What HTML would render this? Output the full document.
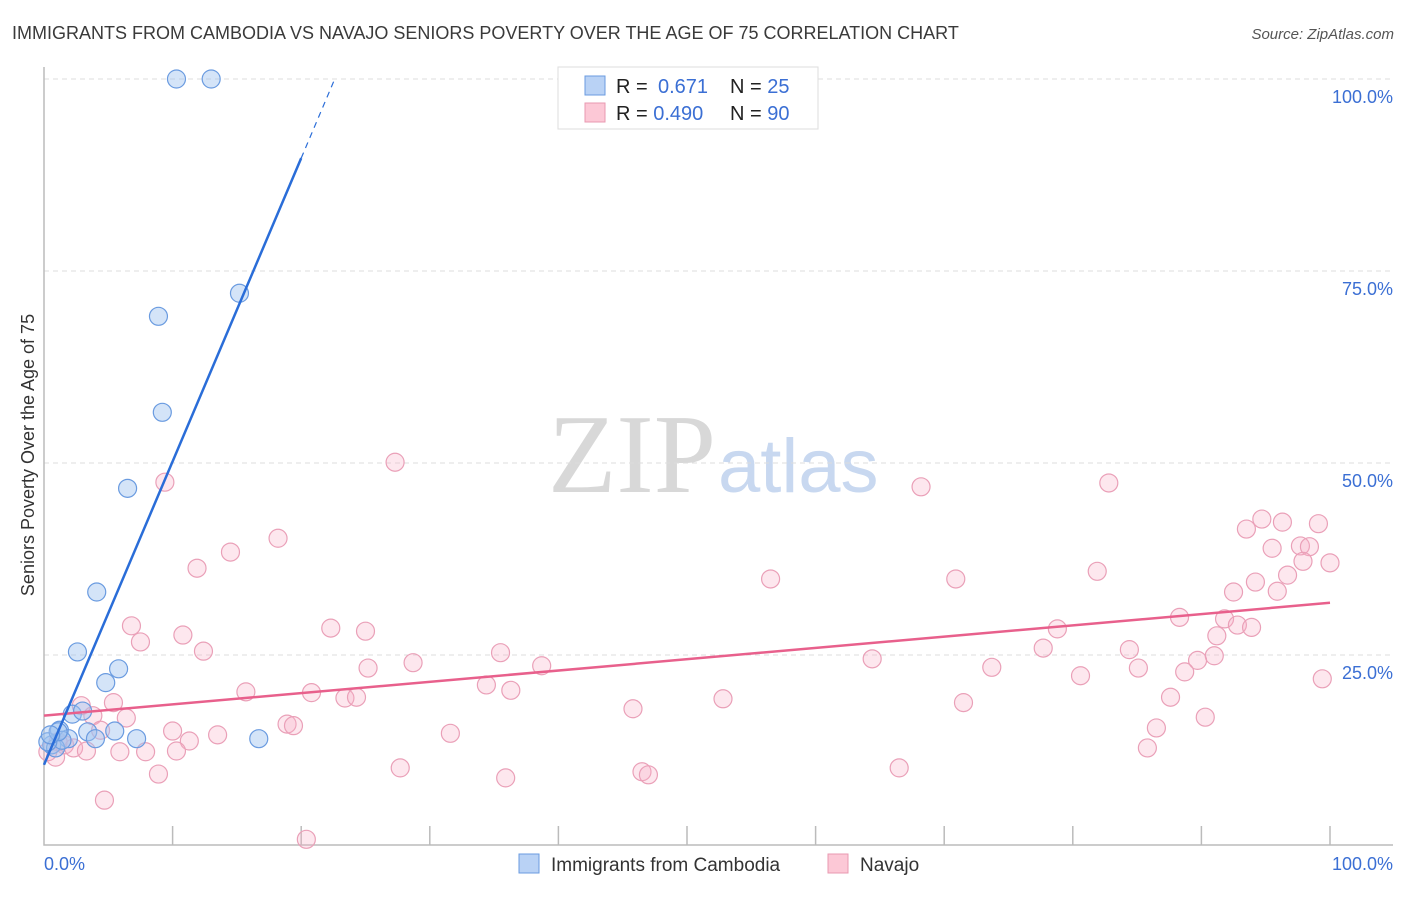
<!DOCTYPE html>
<html><head><meta charset="utf-8"><style>
body{margin:0;background:#fff;font-family:"Liberation Sans",sans-serif}
svg text{font-family:"Liberation Sans",sans-serif}
</style></head><body>
<svg id="c" width="1406" height="892">
<text x="12" y="39" font-size="18" fill="#3a3a3a">IMMIGRANTS FROM CAMBODIA VS NAVAJO SENIORS POVERTY OVER THE AGE OF 75 CORRELATION CHART</text>
<text x="1394" y="39" font-size="15" fill="#555" font-style="italic" text-anchor="end">Source: ZipAtlas.com</text>
<text x="716" y="492" font-size="112" fill="#d8d8d8" text-anchor="end" style="font-family:'Liberation Serif',serif">ZIP</text>
<text x="718" y="492" font-size="76" fill="#c8d8f0">atlas</text>
<text transform="translate(34,455) rotate(-90)" font-size="18" fill="#333" text-anchor="middle">Seniors Poverty Over the Age of 75</text>
<g id="grid"></g><g id="pts"></g><g id="lines"></g>
<g>
<rect x="558" y="67" width="260" height="62" fill="#fff" stroke="#ddd"/>
<rect x="585" y="76" width="20" height="19" fill="#b9d2f5" stroke="#6a9be0"/>
<rect x="585" y="103" width="20" height="19" fill="#fcc8d6" stroke="#e899b0"/>
<text x="616" y="93" font-size="20" fill="#222">R = <tspan x="658" fill="#3b6fd4">0.671</tspan></text>
<text x="730" y="93" font-size="20" fill="#222">N = <tspan fill="#3b6fd4">25</tspan></text>
<text x="616" y="120" font-size="20" fill="#222">R = <tspan fill="#3b6fd4">0.490</tspan></text>
<text x="730" y="120" font-size="20" fill="#222">N = <tspan fill="#3b6fd4">90</tspan></text>
</g>
<g>
<rect x="519" y="854" width="20" height="19" fill="#b9d2f5" stroke="#6a9be0"/>
<text x="551" y="871" font-size="19" fill="#333">Immigrants from Cambodia</text>
<rect x="828" y="854" width="20" height="19" fill="#fcc8d6" stroke="#e899b0"/>
<text x="860" y="871" font-size="19" fill="#333">Navajo</text>
</g>
</svg>
<script>
const yTicks=[25,50,75,100];
const yTickLabels=["25.0%","50.0%","75.0%","100.0%"];
const xTicks=[0,10,20,30,40,50,60,70,80,90,100];
const blueX=[10.3,13.0,15.2,8.9,9.2,6.5,4.1,2.6,5.8,4.8,2.2,3.0,1.2,3.4,5.5,4.0,7.2,16.7,1.9,0.6,0.9,1.4,0.3,1.1,0.5];
const blueY=[100,100,72.1,69.1,56.6,46.7,33.2,25.4,23.2,21.4,17.3,17.7,15.2,15.0,15.1,14.1,14.1,14.1,14.1,13.3,12.9,13.9,13.7,15.0,14.6];
const pinkX=[27.3,9.4,68.2,82.8,94.7,96.3,99.1,93.5,14.5,18.2,97.7,95.5,98.4,100,97.9,11.9,56.5,70.9,81.9,94.2,96.7,92.5,95.9,6.8,7.5,10.8,22.3,25.0,88.3,91.8,92.8,93.9,91.2,78.8,12.4,35.5,77.7,84.4,91.0,89.7,64.4,25.2,28.7,38.7,73.7,85.1,88.7,80.6,99.4,34.4,15.7,20.8,36.3,23.4,24.3,2.9,87.6,52.8,5.4,71.5,45.8,3.8,6.4,18.9,19.4,4.4,10.0,90.3,86.5,31.6,13.5,11.3,1.6,2.3,3.3,5.9,7.9,10.3,85.8,27.7,35.9,8.9,46.5,47.0,66.5,4.7,20.4,0.9,1.1,0.3];
const pinkY=[50.1,47.5,46.9,47.4,42.7,42.3,42.1,41.4,38.4,40.2,39.2,38.9,39.1,37.0,37.2,36.3,34.9,34.9,35.9,34.5,35.4,33.2,33.3,28.8,26.7,27.6,28.5,28.1,29.9,29.7,28.9,28.6,27.5,28.4,25.5,25.3,25.9,25.7,24.9,24.3,24.5,23.3,24.0,23.6,23.4,23.3,22.8,22.3,21.9,21.1,20.2,20.1,20.4,19.4,19.5,18.4,19.5,19.3,18.8,18.8,18.0,17.1,16.8,16.0,15.8,15.2,15.1,16.9,15.5,14.8,14.6,13.8,13.3,12.9,12.5,12.4,12.4,12.5,12.9,10.3,9.0,9.5,9.8,9.4,10.3,6.1,1.0,11.7,13.7,12.4];
const blueFit=[10.7,3.95];
const pinkFit=[17.1,0.147];
const NS="http://www.w3.org/2000/svg";
const sx=v=>44+v*12.86, sy=v=>847-v*7.68;
function mk(parent,tag,attrs){const e=document.createElementNS(NS,tag);for(const k in attrs)e.setAttribute(k,attrs[k]);document.getElementById(parent).appendChild(e);return e;}
yTicks.forEach((t,i)=>{
 const l=mk('grid','line',{x1:44,x2:1393,y1:sy(t),y2:sy(t),stroke:'#ddd','stroke-dasharray':'5,4'});
 
 
 const tx=mk('grid','text',{x:1393,y:sy(t)+24,'font-size':18,fill:'#3b6fd4','text-anchor':'end'});tx.textContent=yTickLabels[i];
 
 
});
const ax=mk('grid','path',{d:'M44,67 V845 H1393',fill:'none',stroke:'#bbb','stroke-width':1.5});


xTicks.forEach(t=>{if(t===0)return;const l=mk('grid','line',{x1:sx(t),x2:sx(t),y1:826,y2:845,stroke:'#bbb','stroke-width':1.5});
 
 });
const x0=mk('grid','text',{x:44,y:870,'font-size':18,fill:'#3b6fd4'});x0.textContent='0.0%';


const x1=mk('grid','text',{x:1393,y:870,'font-size':18,fill:'#3b6fd4','text-anchor':'end'});x1.textContent='100.0%';


pinkX.forEach((x,i)=>{const c=mk('pts','circle',{cx:sx(x),cy:sy(pinkY[i]),r:9,fill:'rgba(248,175,198,0.3)',stroke:'#eaa0b8','stroke-width':1.2});
 
 });
blueX.forEach((x,i)=>{const c=mk('pts','circle',{cx:sx(x),cy:sy(blueY[i]),r:9,fill:'rgba(160,195,240,0.45)',stroke:'#6a9be0','stroke-width':1.2});
 
 });
const pl=mk('lines','line',{x1:sx(0),y1:sy(pinkFit[0]),x2:sx(100),y2:sy(pinkFit[0]+100*pinkFit[1]),stroke:'#e8608c','stroke-width':2.5});


const bl=mk('lines','line',{x1:sx(0),y1:sy(blueFit[0]),x2:sx(20),y2:sy(blueFit[0]+20*blueFit[1]),stroke:'#2a6dd8','stroke-width':2.5});


const xe=(100-blueFit[0])/blueFit[1];
const bd=mk('lines','line',{x1:sx(20),y1:sy(blueFit[0]+20*blueFit[1]),x2:sx(xe),y2:sy(100),stroke:'#2a6dd8','stroke-width':1.2,'stroke-dasharray':'6,5'});


</script>
</body></html>
